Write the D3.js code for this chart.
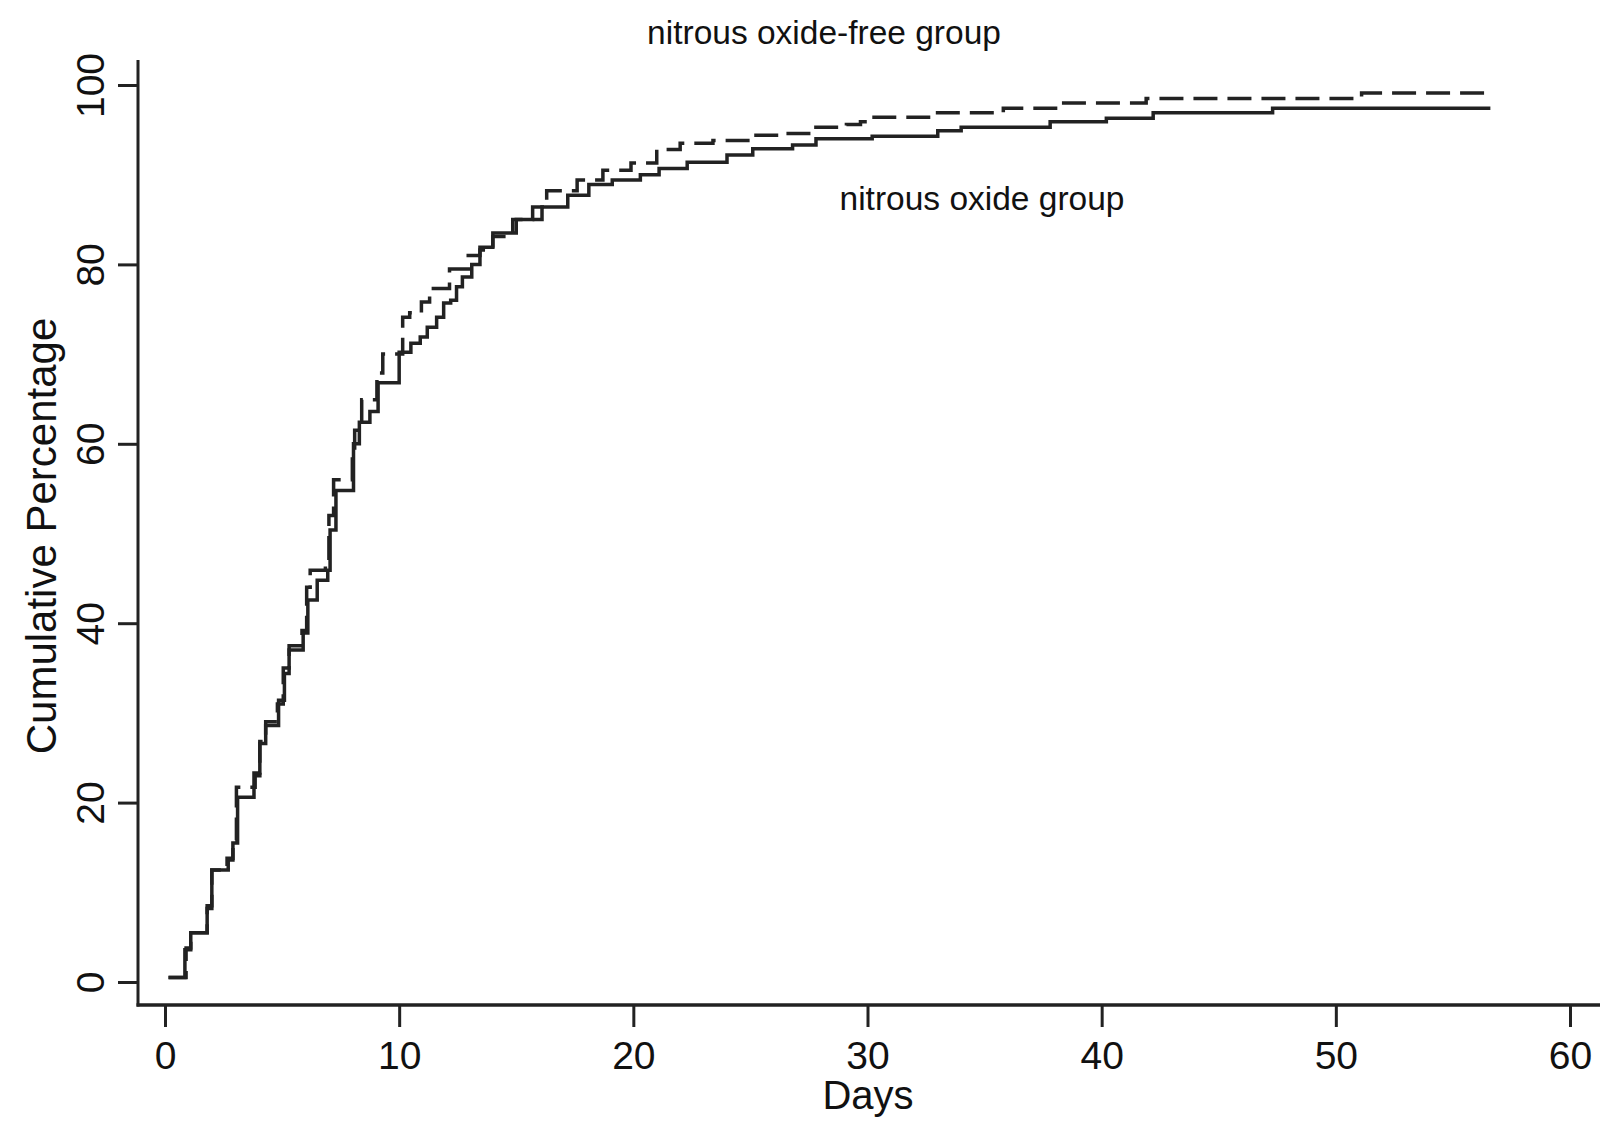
<!DOCTYPE html>
<html>
<head>
<meta charset="utf-8">
<script src="https://cdn.jsdelivr.net/npm/d3@7"></script>
<style>
   html, body { margin: 0; padding: 0; background: #fff; }
   svg text { font-family: "Liberation Sans", Arial, Helvetica, sans-serif; fill: #111; }
</style>
</head>
<body>
<script>
// nitrous oxide group (solid) : day of each step, cumulative % after the step
var n2oDays = [0.15, 0.85, 1.1, 1.8, 2.0, 2.7, 2.9, 3.1, 3.8, 4.05, 4.3, 4.85, 5.1, 5.3, 5.9, 6.1, 6.5, 6.95,
   7.05, 7.3, 8.05, 8.3, 8.75, 9.1, 10.0, 10.5, 10.9, 11.2, 11.6, 11.9, 12.2, 12.45, 12.7, 13.1, 13.45,
   14.0, 15.0, 16.1, 17.2, 18.1, 19.1, 20.3, 21.1, 22.3, 24.0, 25.1, 26.8, 27.8, 30.2, 33.0, 34.0,
   37.8, 40.2, 42.2, 47.3, 56.6];
var n2oPct = [0.5, 3.6, 5.5, 8.2, 12.5, 13.6, 15.5, 20.6, 23.3, 26.6, 28.6, 31.4, 34.4, 37.0, 38.9, 42.6, 44.8, 45.9,
   50.4, 54.8, 60.0, 62.4, 63.6, 66.8, 70.2, 71.2, 71.9, 73.0, 74.1, 75.7, 76.0, 77.5, 78.6, 80.0, 81.9,
   83.5, 85.0, 86.4, 87.7, 88.9, 89.4, 90.0, 90.7, 91.4, 92.2, 92.9, 93.3, 94.0, 94.3, 94.9, 95.3,
   95.9, 96.3, 96.9, 97.4, 97.4];

// nitrous oxide-free group (dashed)
var freeDays = [0.15, 0.9, 1.1, 1.8, 2.0, 2.65, 2.9, 3.05, 3.85, 4.05, 4.3, 4.8, 5.05, 5.3, 5.85, 6.05, 6.2, 6.85,
   7.0, 7.2, 8.0, 8.1, 8.4, 9.05, 9.3, 10.15, 10.45, 10.95, 11.3, 12.15, 12.95, 13.45, 14.0, 14.85,
   15.7, 16.3, 17.6, 18.7, 19.9, 21.0, 22.0, 23.4, 25.0, 26.3, 27.7, 29.1, 29.7, 30.2, 32.8, 35.8,
   38.2, 41.9, 51.1, 56.6];
var freePct = [0.5, 3.8, 5.5, 8.5, 12.5, 13.8, 15.8, 21.7, 23.0, 26.8, 29.0, 31.0, 35.0, 37.5, 39.2, 44.0, 45.9, 46.8,
   52.0, 56.0, 58.5, 61.5, 64.9, 67.9, 70.0, 74.1, 74.6, 75.8, 77.3, 79.5, 81.0, 81.6, 83.1, 85.0,
   86.4, 88.2, 89.4, 90.5, 91.3, 92.8, 93.5, 93.8, 94.4, 94.6, 95.3, 95.6, 95.9, 96.4, 96.9, 97.4,
   98.0, 98.5, 99.1, 99.1];

var xTicks = [0, 10, 20, 30, 40, 50, 60];
var yTicks = [0, 20, 40, 60, 80, 100];

(function(){
   var W = 1602, H = 1122;
   var svg = d3.select('body').append('svg')
      .attr('width', W)
      .attr('height', H);

   var x = d3.scaleLinear().domain([0, 60]).range([165, 1570]);
   var y = d3.scaleLinear().domain([0, 100]).range([982, 85]);

   var axisX = 1005, axisY = 138;

   // y axis
   var gy = svg.append('g')
      .attr('transform', 'translate(' + axisY + ',0)')
      .call(d3.axisLeft(y).tickValues(yTicks).tickSize(20).tickSizeOuter(0));
   gy.select('.domain').remove();
   gy.selectAll('line').attr('stroke', '#222').attr('stroke-width', 3);
   gy.selectAll('text')
      .attr('x', null)
      .attr('dy', null)
      .attr('transform', 'translate(-34,0) rotate(-90)')
      .attr('text-anchor', 'middle')
      .style('font-size', '39px');

   // x axis
   var gx = svg.append('g')
      .attr('transform', 'translate(0,' + axisX + ')')
      .call(d3.axisBottom(x).tickValues(xTicks).tickSize(22).tickSizeOuter(0));
   gx.select('.domain').remove();
   gx.selectAll('line').attr('stroke', '#222').attr('stroke-width', 3);
   gx.selectAll('text')
      .attr('y', 64)
      .attr('dy', null)
      .style('font-size', '39px');

   // axis lines
   svg.append('line')
      .attr('x1', axisY).attr('y1', 60)
      .attr('x2', axisY).attr('y2', axisX + 1.5)
      .attr('stroke', '#222').attr('stroke-width', 3);
   svg.append('line')
      .attr('x1', axisY - 1.5).attr('y1', axisX)
      .attr('x2', 1600).attr('y2', axisX)
      .attr('stroke', '#222').attr('stroke-width', 3.5);

   // curves
   var line = d3.line()
      .x(function(d){ return x(d[0]); })
      .y(function(d){ return y(d[1]); })
      .curve(d3.curveStepAfter);

   var n2o = d3.zip(n2oDays, n2oPct);
   var free = d3.zip(freeDays, freePct);

   svg.append('path')
      .datum(free)
      .attr('d', line)
      .attr('fill', 'none')
      .attr('stroke', '#222')
      .attr('stroke-width', 3.5)
      .attr('stroke-dasharray', '24,10');

   svg.append('path')
      .datum(n2o)
      .attr('d', line)
      .attr('fill', 'none')
      .attr('stroke', '#222')
      .attr('stroke-width', 3.5);

   // titles
   svg.append('text')
      .attr('x', 868).attr('y', 1109)
      .attr('text-anchor', 'middle')
      .style('font-size', '40px')
      .text('Days');

   svg.append('text')
      .attr('transform', 'translate(56,536) rotate(-90)')
      .attr('text-anchor', 'middle')
      .style('font-size', '42px')
      .text('Cumulative Percentage');

   // group labels
   svg.append('text')
      .attr('x', 824).attr('y', 44)
      .attr('text-anchor', 'middle')
      .style('font-size', '33.5px')
      .text('nitrous oxide-free group');

   svg.append('text')
      .attr('x', 982).attr('y', 210)
      .attr('text-anchor', 'middle')
      .style('font-size', '33.5px')
      .text('nitrous oxide group');
})();
</script>
</body>
</html>
